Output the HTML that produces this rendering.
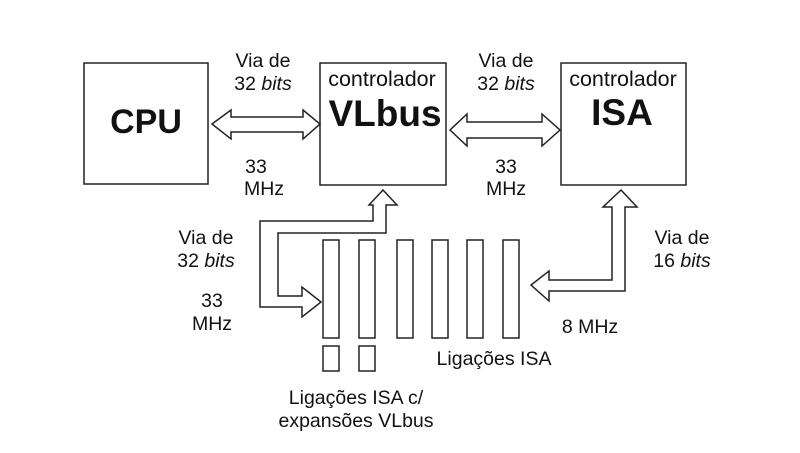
<!DOCTYPE html>
<html><head><meta charset="utf-8"><style>
html,body{margin:0;padding:0;background:#fff;}
svg{display:block;font-family:"Liberation Sans",sans-serif;}
</style></head><body>
<svg width="800" height="453" viewBox="0 0 800 453" xmlns="http://www.w3.org/2000/svg">
<g fill="none" stroke="#222" stroke-width="1.5">
<rect x="84" y="63" width="124" height="121"/>
<rect x="320" y="63" width="126" height="122"/>
<rect x="561" y="63" width="125" height="122"/>
<polygon fill="#fff" points="212,124 231,110 231,117 303,117 303,110 320,124 303,139 303,132 231,132 231,139"/>
<polygon fill="#fff" points="450,130 467,114 467,122 542,122 542,114 560,130 542,146 542,138 467,138 467,146"/>
<polygon fill="#fff" points="383,190 397,205 386,205 386,233 278,233 278,296 302,296 302,287 321,302 302,317 302,307 260,307 260,221 373,221 373,205 369,205"/>
<polygon fill="#fff" points="621,190 637,207 625,207 625,291 549,291 549,301 531,285 549,271 549,280 612,280 612,207 603,207"/>
<rect x="323" y="240" width="16" height="98"/>
<rect x="359" y="240" width="16" height="98"/>
<rect x="397" y="240" width="16" height="98"/>
<rect x="432" y="240" width="16" height="98"/>
<rect x="467" y="240" width="16" height="98"/>
<rect x="503" y="240" width="16" height="98"/>
<rect x="323" y="346" width="16" height="25"/>
<rect x="359" y="346" width="16" height="25"/>
</g>
<g fill="#111" font-size="19.5">
<text x="146" y="133" font-size="34" font-weight="bold" text-anchor="middle">CPU</text>
<text x="382" y="86" font-size="21.5" text-anchor="middle">controlador</text>
<text x="385" y="126" font-size="37" font-weight="bold" text-anchor="middle">VLbus</text>
<text x="623" y="86" font-size="21.5" text-anchor="middle">controlador</text>
<text x="622" y="125" font-size="37" font-weight="bold" text-anchor="middle">ISA</text>
<text x="263" y="67" text-anchor="middle">Via de</text>
<text x="263" y="90" text-anchor="middle">32 <tspan font-style="italic">bits</tspan></text>
<text x="506" y="67" text-anchor="middle">Via de</text>
<text x="506" y="90" text-anchor="middle">32 <tspan font-style="italic">bits</tspan></text>
<text x="256" y="173" text-anchor="middle">33</text>
<text x="264" y="195" text-anchor="middle">MHz</text>
<text x="506" y="173" text-anchor="middle">33</text>
<text x="506" y="195" text-anchor="middle">MHz</text>
<text x="206" y="244" text-anchor="middle">Via de</text>
<text x="206" y="267" text-anchor="middle">32 <tspan font-style="italic">bits</tspan></text>
<text x="212" y="307" text-anchor="middle">33</text>
<text x="212" y="330" text-anchor="middle">MHz</text>
<text x="682" y="244" text-anchor="middle">Via de</text>
<text x="682" y="267" text-anchor="middle">16 <tspan font-style="italic">bits</tspan></text>
<text x="590" y="333" text-anchor="middle">8 MHz</text>
<text x="494" y="365" text-anchor="middle">Ligações ISA</text>
<text x="356" y="404" text-anchor="middle">Ligações ISA c/</text>
<text x="356" y="427" text-anchor="middle">expansões VLbus</text>
</g>
</svg>
</body></html>
